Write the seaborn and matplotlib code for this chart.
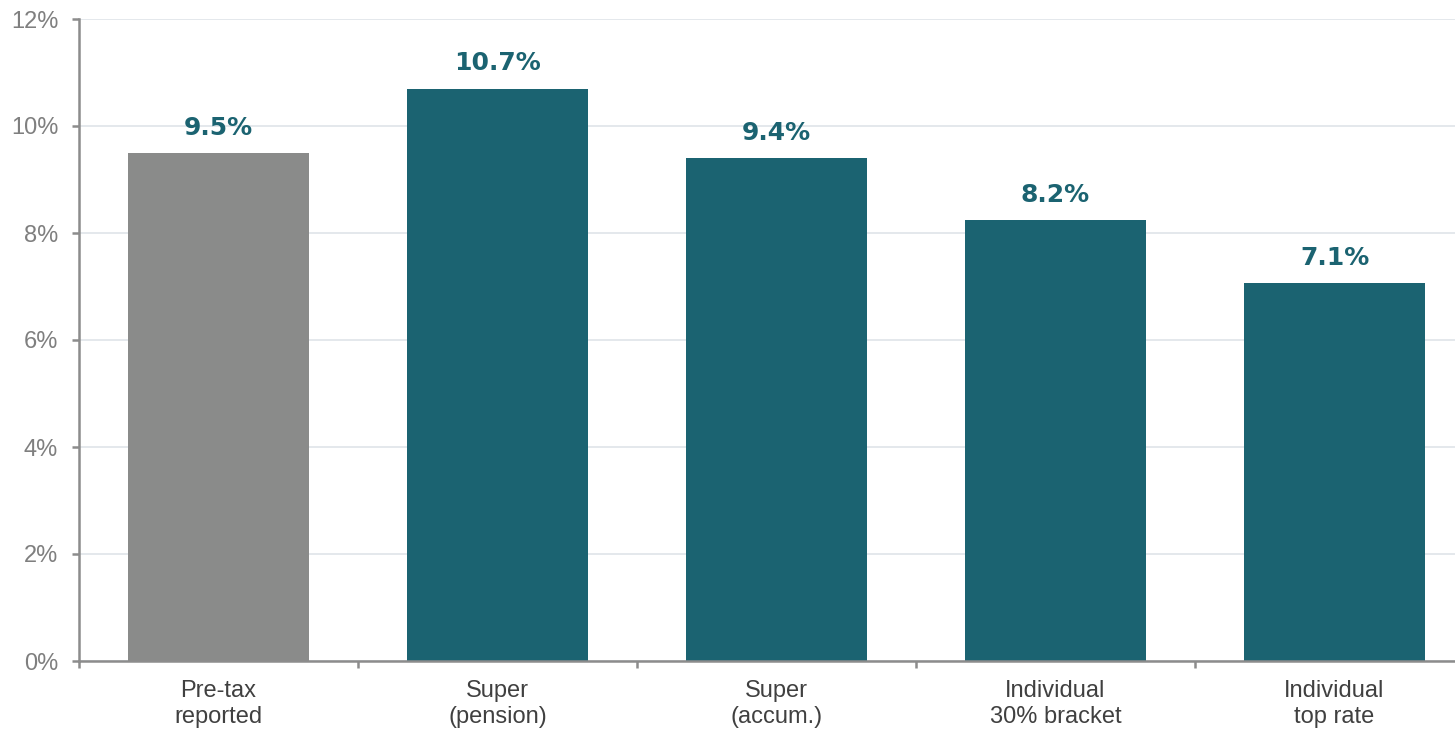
import matplotlib
matplotlib.use("Agg")
import matplotlib.pyplot as plt
import seaborn as sns
import pandas as pd
from matplotlib.ticker import FixedLocator, FuncFormatter

categories = ["Pre-tax\nreported", "Super\n(pension)", "Super\n(accum.)",
              "Individual\n30% bracket", "Individual\ntop rate"]
values = [9.5, 10.7, 9.4, 8.24, 7.07]
value_labels = ["9.5%", "10.7%", "9.4%", "8.2%", "7.1%"]
bar_colors = ["#8a8b8a", "#1b6371", "#1b6371", "#1b6371", "#1b6371"]
y_ticks = [0, 2, 4, 6, 8, 10, 12]

df = pd.DataFrame({"category": categories, "value": values})

sns.set_theme(style="white")
plt.rcParams["font.family"] = ["Liberation Sans", "DejaVu Sans"]

fig = plt.figure(figsize=(14.55, 7.30), dpi=100)
ax = fig.add_axes([79 / 1455, 69 / 730, 1395 / 1455, 642 / 730])

sns.barplot(data=df, x="category", y="value", hue="category",
            palette=bar_colors, width=0.65, saturation=1, legend=False,
            linewidth=0, ax=ax)

ax.set_ylim(0, 12)
ax.set_xlim(-0.5, len(categories) - 0.5)
ax.yaxis.set_major_locator(FixedLocator(y_ticks))
ax.yaxis.set_major_formatter(FuncFormatter(lambda v, p: f"{v:.0f}%"))
ax.grid(axis="y", color="#e4e8ec", linewidth=1.4)
ax.set_axisbelow(True)
ax.set_xlabel("")
ax.set_ylabel("")

for s in ["top", "right"]:
    ax.spines[s].set_visible(False)
for s in ["left", "bottom"]:
    ax.spines[s].set_color("#8c8c8c")
    ax.spines[s].set_linewidth(1.8)

ax.tick_params(axis="y", which="major", length=5, width=1.8, color="#8c8c8c",
               labelsize=17, labelcolor="#7f7f7f", pad=10, left=True)
ax.tick_params(axis="x", which="major", length=0, labelsize=17,
               labelcolor="#404040", pad=14)
ax.xaxis.set_minor_locator(FixedLocator([i - 0.5 for i in range(len(categories) + 1)]))
ax.tick_params(axis="x", which="minor", length=5, width=1.8, color="#8c8c8c", bottom=True)
for lab in ax.get_xticklabels():
    lab.set_linespacing(1.2)

for i, (v, t) in enumerate(zip(values, value_labels)):
    ax.annotate(t, xy=(i, v), xytext=(0, 13), textcoords="offset points",
                ha="center", va="baseline", fontsize=18, fontweight="bold",
                color="#1b6371", family=["DejaVu Sans"])

fig.savefig("out.png", dpi=100)
